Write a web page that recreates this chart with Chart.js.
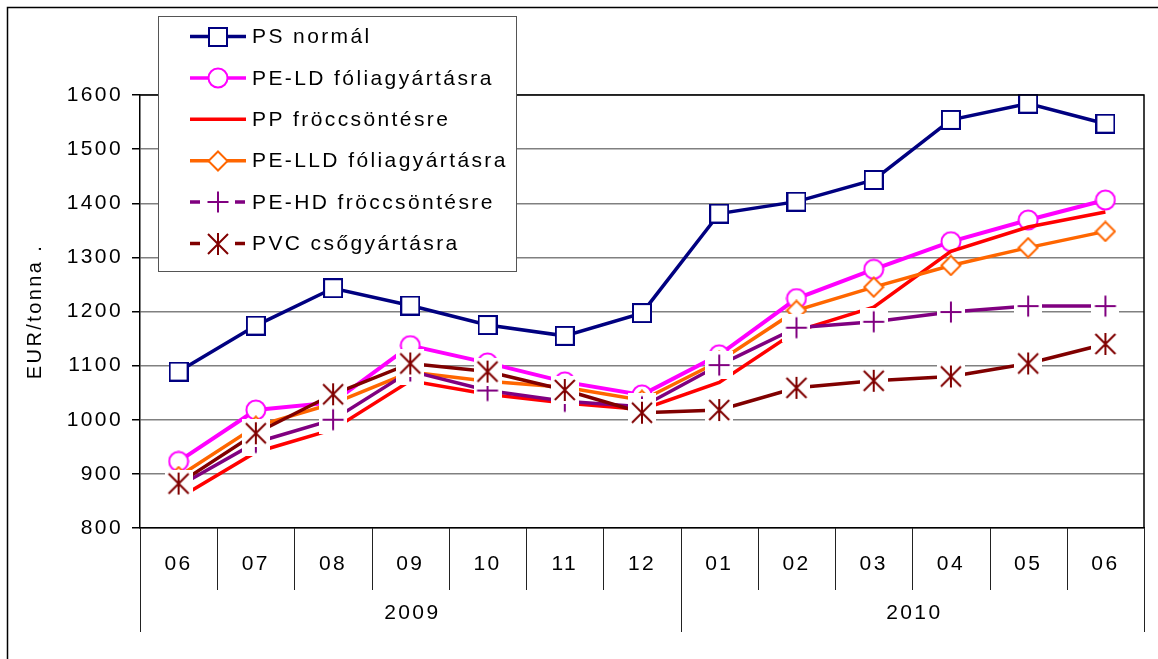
<!DOCTYPE html>
<html>
<head>
<meta charset="utf-8">
<script src="https://cdn.jsdelivr.net/npm/chart.js@4.4.0/dist/chart.umd.min.js"></script>
<style>
  html, body { margin: 0; padding: 0; background: #ffffff; }
  #wrap { width: 1158px; height: 659px; }
</style>
</head>
<body>
<div id="wrap"><canvas id="arakChart" width="1158" height="659"></canvas></div>
<script>
// honapok es evek (ket szintu kategoria tengely)
var months = ["06", "07", "08", "09", "10", "11", "12", "01", "02", "03", "04", "05", "06"];
var years = ["2009", "2010"];
var yearSpans = [7, 6];

var seriesNames = [
  "PS normál",
  "PE-LD fóliagyártásra",
  "PP fröccsöntésre",
  "PE-LLD fóliagyártásra",
  "PE-HD fröccsöntésre",
  "PVC csőgyártásra"
];

var psNormal = [1089, 1174, 1243, 1211, 1175, 1155, 1197, 1381, 1403, 1443, 1554, 1584, 1547];
var peLd     = [923, 1018, 1032, 1137, 1105, 1070, 1046, 1120, 1224, 1278, 1329, 1369, 1406];
var pp       = [855, 940, 982, 1072, 1047, 1031, 1019, 1069, 1164, 1208, 1311, 1356, 1384];
var peLld    = [895, 988, 1030, 1088, 1071, 1060, 1036, 1108, 1202, 1245, 1285, 1318, 1348];
var peHd     = [877, 958, 1000, 1090, 1054, 1034, 1024, 1101, 1170, 1181, 1199, 1210, 1210];
var pvc      = [882, 975, 1047, 1104, 1089, 1055, 1013, 1018, 1059, 1072, 1080, 1104, 1140];

var yTicks = [800, 900, 1000, 1100, 1200, 1300, 1400, 1500, 1600];

var FONT = "'Liberation Sans', Arial, sans-serif";
var FSIZE = 21;
var SPACING = "2.4px";

// Excel-szeru jelolok feher hatterrel
function makeMarker(kind, color) {
  var s = (kind === "plus" || kind === "star") ? 28 : (kind === "square" ? 20 : 22);
  var c = document.createElement("canvas");
  c.width = s; c.height = s;
  var g = c.getContext("2d");
  var m = s / 2;
  g.lineWidth = 2;
  g.strokeStyle = color;
  g.fillStyle = "#ffffff";
  if (kind === "square") {
    g.fillRect(1, 1, s - 2, s - 2);
    g.strokeRect(1, 1, s - 2, s - 2);
  } else if (kind === "circle") {
    g.beginPath(); g.arc(m, m, 9.5, 0, Math.PI * 2);
    g.fill(); g.stroke();
  } else if (kind === "diamond") {
    g.beginPath();
    g.moveTo(m, 1.5); g.lineTo(s - 1.5, m); g.lineTo(m, s - 1.5); g.lineTo(1.5, m);
    g.closePath(); g.fill(); g.stroke();
  } else if (kind === "plus") {
    g.fillRect(0, 0, s, s);
    g.beginPath();
    g.moveTo(m, m - 10.5); g.lineTo(m, m + 10.5);
    g.moveTo(m - 10.5, m); g.lineTo(m + 10.5, m);
    g.stroke();
  } else if (kind === "star") {
    g.fillRect(0, 0, s, s);
    g.beginPath();
    g.moveTo(m - 10, m - 10); g.lineTo(m + 10, m + 10);
    g.moveTo(m + 10, m - 10); g.lineTo(m - 10, m + 10);
    g.moveTo(m, m - 11); g.lineTo(m, m + 11);
    g.stroke();
  }
  return c;
}

var colors = ["#000080", "#ff00ff", "#ff0000", "#ff6600", "#800080", "#800000"];
var markers = [
  makeMarker("square", colors[0]),
  makeMarker("circle", colors[1]),
  null,
  makeMarker("diamond", colors[3]),
  makeMarker("plus", colors[4]),
  makeMarker("star", colors[5])
];
var values = [psNormal, peLd, pp, peLld, peHd, pvc];
var widths = [3.5, 4, 3.5, 3.5, 3.5, 3.5];

var datasets = values.map(function (d, i) {
  return {
    label: seriesNames[i],
    data: d,
    borderColor: colors[i],
    backgroundColor: colors[i],
    borderWidth: widths[i],
    pointStyle: markers[i] || "circle",
    pointRadius: markers[i] ? 10 : 0,
    pointHoverRadius: markers[i] ? 10 : 0,
    tension: 0,
    clip: false,
    order: 5 - i // PVC legfelul, mint az Excelben
  };
});

var spacingPlugin = {
  id: "spacing",
  beforeLayout: function (chart) { chart.ctx.letterSpacing = SPACING; },
  beforeDraw: function (chart) {
    var ctx = chart.ctx;
    ctx.letterSpacing = SPACING;
    ctx.save();
    ctx.fillStyle = "#ffffff";
    ctx.fillRect(0, 0, chart.width, chart.height);
    // kulso keret
    ctx.strokeStyle = "#000000";
    ctx.lineWidth = 1.5;
    ctx.strokeRect(7.5, 7.5, chart.width + 10, chart.height + 10);
    ctx.restore();
  }
};

var decorPlugin = {
  id: "decor",
  afterDraw: function (chart) {
    var ctx = chart.ctx;
    var a = chart.chartArea;
    var xs = chart.scales.x;
    var step = (a.right - a.left) / months.length;
    ctx.save();

    // diagram terulet keret (felso, jobb)
    ctx.strokeStyle = "#000000";
    ctx.lineWidth = 1.5;
    ctx.beginPath();
    ctx.moveTo(a.left, a.top); ctx.lineTo(a.right, a.top); ctx.lineTo(a.right, a.bottom);
    ctx.stroke();

    // kategoria elvalasztok
    ctx.lineWidth = 1;
    ctx.strokeStyle = "#222222";
    var rowBottom = a.bottom + 62;
    var yearBottom = a.bottom + 104;
    for (var i = 0; i <= months.length; i++) {
      var bx = Math.round(xs.getPixelForValue(Math.min(i, months.length - 1)) + (i === months.length ? step / 2 : -step / 2)) + 0.5;
      ctx.beginPath();
      ctx.moveTo(bx, a.bottom);
      ctx.lineTo(bx, rowBottom);
      ctx.stroke();
    }
    // evek
    ctx.font = FSIZE + "px " + FONT;
    ctx.fillStyle = "#000000";
    ctx.textAlign = "center";
    ctx.textBaseline = "middle";
    var start = 0;
    for (var k = 0; k < years.length; k++) {
      var x0 = a.left + start * step;
      var x1 = a.left + (start + yearSpans[k]) * step;
      [x0, x1].forEach(function (lx) {
        var px = Math.round(lx) + 0.5;
        ctx.beginPath(); ctx.moveTo(px, rowBottom); ctx.lineTo(px, yearBottom); ctx.stroke();
      });
      ctx.fillText(years[k], (x0 + x1) / 2 + 2, a.bottom + 85);
      start += yearSpans[k];
    }

    // jelmagyarazat
    var lx = 158, ly = 16, lw = 358, lh = 255;
    ctx.fillStyle = "#ffffff";
    ctx.fillRect(lx, ly, lw, lh);
    ctx.strokeStyle = "#555555";
    ctx.lineWidth = 1;
    ctx.strokeRect(lx + 0.5, ly + 0.5, lw, lh);
    ctx.textAlign = "left";
    for (var j = 0; j < seriesNames.length; j++) {
      var ry = 36.5 + j * 41.4;
      ctx.strokeStyle = colors[j];
      ctx.lineWidth = 3.5;
      ctx.setLineDash(j >= 4 ? [10, 5] : []);
      ctx.beginPath(); ctx.moveTo(190, ry); ctx.lineTo(246, ry); ctx.stroke();
      ctx.setLineDash([]);
      if (markers[j]) {
        var mk = markers[j];
        ctx.drawImage(mk, Math.round(218 - mk.width / 2), Math.round(ry - mk.height / 2));
      }
      ctx.fillStyle = "#000000";
      ctx.fillText(seriesNames[j], 252, ry + 1);
    }
    ctx.restore();
  }
};

var ctx = document.getElementById("arakChart").getContext("2d");

var arakChart = new Chart(ctx, {
  type: "line",
  data: {
    labels: months,
    datasets: datasets
  },
  options: {
    responsive: false,
    animation: false,
    layout: { padding: { top: 95, right: 9, left: 0, bottom: 0 } },
    plugins: {
      legend: { display: false },
      tooltip: { enabled: false }
    },
    scales: {
      x: {
        offset: true,
        grid: { display: false, drawTicks: false },
        border: { display: true, color: "#000000", width: 1.5 },
        ticks: {
          color: "#000000",
          font: { family: FONT, size: FSIZE },
          padding: 24,
          maxRotation: 0,
          autoSkip: false
        },
        afterFit: function (s) { s.height = 131; }
      },
      y: {
        min: yTicks[0],
        max: yTicks[yTicks.length - 1],
        afterBuildTicks: function (s) { s.ticks = yTicks.map(function (v) { return { value: v }; }); },
        ticks: {
          color: "#000000",
          font: { family: FONT, size: FSIZE },
          padding: 9,
          callback: function (v) { return String(v); }
        },
        grid: { color: "#808080", tickColor: "#000000", tickLength: 8, lineWidth: 1.5 },
        border: { color: "#000000", width: 1.5 },
        title: {
          display: true,
          text: "EUR/tonna .",
          color: "#000000",
          font: { family: FONT, size: 20 },
          padding: { top: 23, bottom: 0 }
        },
        afterFit: function (s) { s.width = 140; }
      }
    }
  },
  plugins: [spacingPlugin, decorPlugin]
});
</script>
</body>
</html>
